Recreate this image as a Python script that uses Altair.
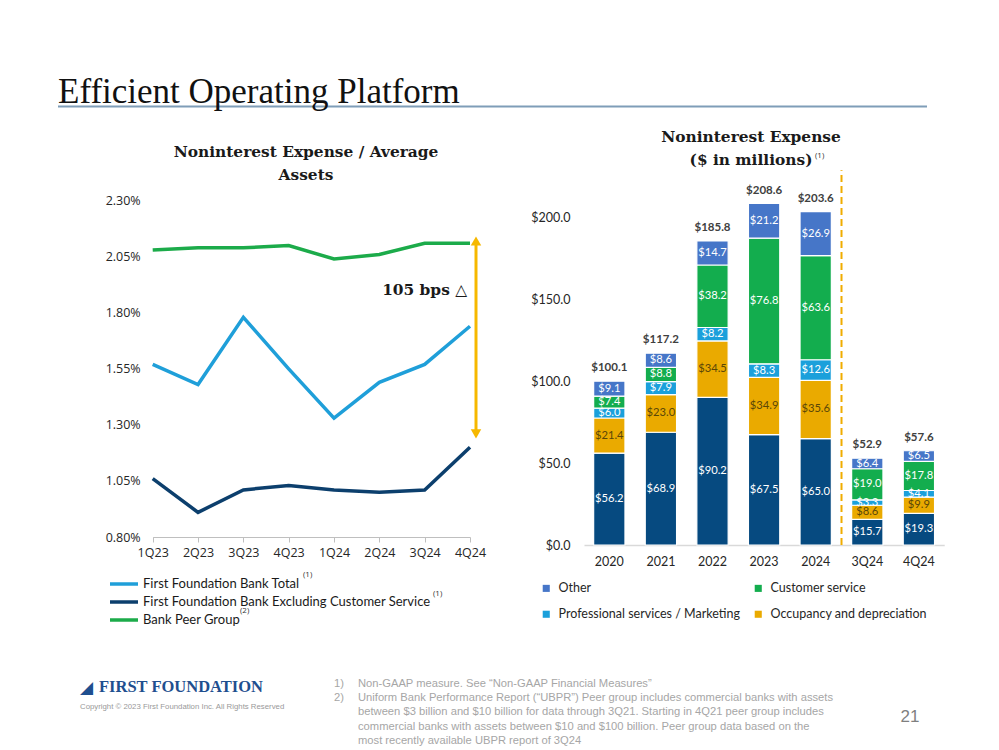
import altair as alt
import pandas as pd

# ---------------- data: left chart ----------------
quarters = ["1Q23", "2Q23", "3Q23", "4Q23", "1Q24", "2Q24", "3Q24", "4Q24"]
ff_total = [1.57, 1.48, 1.78, 1.55, 1.33, 1.49, 1.57, 1.74]
ff_excl_cs = [1.06, 0.91, 1.01, 1.03, 1.01, 1.00, 1.01, 1.20]
peer_group = [2.08, 2.09, 2.09, 2.10, 2.04, 2.06, 2.11, 2.11]
series_names = ["First Foundation Bank Total",
                "First Foundation Bank Excluding Customer Service",
                "Bank Peer Group"]
left_ticks = [0.80, 1.05, 1.30, 1.55, 1.80, 2.05, 2.30]
arrow_top = 2.12
arrow_bottom = 1.26
bps_label = "105 bps \u25b3"
bps_level = 1.90

# ---------------- data: right chart ----------------
periods = ["2020", "2021", "2022", "2023", "2024", "3Q24", "4Q24"]
salaries = [56.2, 68.9, 90.2, 67.5, 65.0, 15.7, 19.3]
occupancy = [21.4, 23.0, 34.5, 34.9, 35.6, 8.6, 9.9]
professional = [6.0, 7.9, 8.2, 8.3, 12.6, 3.3, 4.1]
customer = [7.4, 8.8, 38.2, 76.8, 63.6, 19.0, 17.8]
other = [9.1, 8.6, 14.7, 21.2, 26.9, 6.4, 6.5]
totals = [100.1, 117.2, 185.8, 208.6, 203.6, 52.9, 57.6]
categories = ["Salaries and benefits", "Occupancy and depreciation",
              "Professional services / Marketing", "Customer service", "Other"]
# legend fills column by column: (Other, Professional) | (Customer, Occupancy)
legend_order = ["Other", "Professional services / Marketing",
                "Customer service", "Occupancy and depreciation"]
right_ticks = [0, 50, 100, 150, 200]
divider_after = "2024"
divider_top = 229

# ---------------- styles ----------------
line_colors = ["#1f9fd9", "#0c3f6d", "#1cab4a"]
bar_colors = ["#064a80", "#eaaa00", "#1ba0db", "#13ad4e", "#4676c8"]
gold = "#f6b800"
W, H = 999, 750
title_font = "DejaVu Serif"

# ---------------- left chart ----------------
line_df = pd.DataFrame(
    [{"q": q, "v": v, "s": s}
     for s, vals in zip(series_names, [ff_total, ff_excl_cs, peer_group])
     for q, v in zip(quarters, vals)]
)

xl_scale = alt.Scale(type="point", domain=quarters, range=[152.7, 470], padding=0)
yl_scale = alt.Scale(domain=[0.8, 2.3], range=[537, 200.7], nice=False, zero=False)
xl_axis = alt.Axis(orient="bottom", offset=537 - H, title=None, labelAngle=0,
                   labelFont="Open Sans", labelFontSize=12.5, labelColor="#262626",
                   domainColor="#bfbfbf", tickColor="#bfbfbf", tickSize=5,
                   labelPadding=4, grid=False)
yl_axis = alt.Axis(orient="left", offset=-152.7, title=None, values=left_ticks,
                   labelExpr="format(datum.value, '.2f') + '%'",
                   labelFont="Open Sans", labelFontSize=12.5, labelColor="#262626",
                   domain=False, ticks=False, tickSize=0, labelPadding=12.5, grid=False)


def xl(field):
    return alt.X(field, type="nominal", scale=xl_scale, axis=xl_axis, sort=quarters)


def yl(field):
    return alt.Y(field, type="quantitative", scale=yl_scale, axis=yl_axis)


lines = alt.Chart(line_df).mark_line(strokeWidth=3.5).encode(
    x=xl("q"), y=yl("v"),
    color=alt.Color("s:N", scale=alt.Scale(domain=series_names, range=line_colors), legend=None),
)

arrow_df = pd.DataFrame({"q": [quarters[-1]], "top": [arrow_top], "bot": [arrow_bottom]})
arrow_rule = alt.Chart(arrow_df).mark_rule(color=gold, strokeWidth=3, xOffset=6).encode(
    x=xl("q"), y=yl("top"), y2="bot:Q")
head_up = alt.Chart(arrow_df).mark_point(shape="triangle-up", filled=True, size=110,
                                         color=gold, opacity=1, xOffset=6).encode(
    x=xl("q"), y=yl("top"))
head_down = alt.Chart(arrow_df).mark_point(shape="triangle-down", filled=True, size=110,
                                           color=gold, opacity=1, xOffset=6).encode(
    x=xl("q"), y=yl("bot"))
bps_df = pd.DataFrame({"q": [quarters[-1]], "v": [bps_level], "t": [bps_label]})
bps_text = alt.Chart(bps_df).mark_text(align="right", baseline="middle", dx=-3,
                                       font=title_font, fontWeight="bold",
                                       fontSize=15.4, color="#1a1a1a").encode(
    x=xl("q"), y=yl("v"), text="t:N")

left_chart = alt.layer(lines, arrow_rule, head_up, head_down, bps_text)

# ---------------- right chart ----------------
bar_rows = []
for i, p in enumerate(periods):
    for k, (c, vals) in enumerate(zip(categories, [salaries, occupancy, professional, customer, other])):
        bar_rows.append({"period": p, "cat": c, "value": vals[i], "ord": k})
bar_df = pd.DataFrame(bar_rows)
tot_df = pd.DataFrame({"period": periods, "total": totals})

xr_scale = alt.Scale(type="band", domain=periods, range=[584, 944.2],
                     paddingInner=0.393, paddingOuter=0.187)
yr_scale = alt.Scale(domain=[0, 230], range=[545, 545 - 230 * 1.6365], nice=False)
xr_axis = alt.Axis(orient="bottom", offset=545 - H, title=None, labelAngle=0,
                   labelFont="Lato", labelFontSize=12.5, labelColor="#262626",
                   domainColor="#d9d9d9", domainWidth=1.5, ticks=False, tickSize=0,
                   labelPadding=10, grid=False)
yr_axis = alt.Axis(orient="left", offset=-584, title=None, values=right_ticks,
                   format="$.1f", labelFont="Lato", labelFontSize=12.5, labelColor="#262626",
                   domain=False, ticks=False, tickSize=0, labelPadding=14, grid=False)


def xr(field, **kw):
    return alt.X(field, type="nominal", scale=xr_scale, axis=xr_axis, sort=periods, **kw)


def yr(field):
    return alt.Y(field, type="quantitative", scale=yr_scale, axis=yr_axis)


stacked = alt.Chart(bar_df).transform_stack(
    stack="value", groupby=["period"], as_=["v0", "v1"],
    sort=[alt.SortField("ord", order="ascending")]
).transform_calculate(
    mid="(datum.v0 + datum.v1) / 2",
    lbl="'$' + format(datum.value, '.1f')",
)

bars = stacked.mark_bar(stroke="white", strokeWidth=1.2).encode(
    x=xr("period"), y=yr("v0"), y2="v1:Q",
    color=alt.Color("cat:N", scale=alt.Scale(domain=categories, range=bar_colors),
                    legend=alt.Legend(orient="none", legendX=540, legendY=582, columns=2,
                                      values=legend_order, title=None, symbolType="square",
                                      symbolSize=50, symbolStrokeWidth=0, labelFont="Lato",
                                      labelFontSize=12.5, labelColor="#262626", labelLimit=400,
                                      labelOffset=6, rowPadding=13, columnPadding=12)),
)
seg_white = stacked.transform_filter(
    alt.FieldOneOfPredicate(field="cat", oneOf=[c for c in categories if c != categories[1]])
).mark_text(font="Lato", fontSize=11.2, color="white", baseline="middle").encode(
    x=xr("period"), y=yr("mid"), text="lbl:N")
seg_dark = stacked.transform_filter(
    alt.FieldEqualPredicate(field="cat", equal=categories[1])
).mark_text(font="Lato", fontSize=11.2, color="#5a4708", baseline="middle").encode(
    x=xr("period"), y=yr("mid"), text="lbl:N")
tot_text = alt.Chart(tot_df).transform_calculate(
    lbl="'$' + format(datum.total, '.1f')"
).mark_text(font="Lato", fontSize=11.5, fontWeight="bold", color="#404040",
            baseline="middle", dy=-13).encode(
    x=xr("period"), y=yr("total"), text="lbl:N")

div_df = pd.DataFrame({"period": [divider_after], "y0": [0], "y1": [divider_top]})
divider = alt.Chart(div_df).mark_rule(color="#f0ac00", strokeWidth=2, strokeDash=[7, 4],
                                      xOffset=10.15).encode(
    x=xr("period", bandPosition=1), y=yr("y0"), y2="y1:Q")

right_chart = alt.layer(bars, seg_white, seg_dark, tot_text, divider)

# ---------------- left legend ----------------
leg_df = pd.DataFrame({"s": series_names})
leg_y = alt.Y("s:N", scale=alt.Scale(type="point", domain=series_names, range=[584, 620], padding=0),
              axis=None)
leg_lines = alt.Chart(leg_df).mark_rule(strokeWidth=3.5).encode(
    x=alt.value(110), x2=alt.value(138), y=leg_y,
    color=alt.Color("s:N", scale=alt.Scale(domain=series_names, range=line_colors), legend=None))
leg_text = alt.Chart(leg_df).mark_text(align="left", baseline="middle", font="Lato",
                                       fontSize=13, color="#1a1a1a").encode(
    x=alt.value(143), y=leg_y, text="s:N")
left_legend = alt.layer(leg_lines, leg_text)


# ---------------- static texts ----------------
def label(text, x, y, size, font="Lato", color="#333333", weight="normal",
          align="left", baseline="alphabetic"):
    return alt.Chart(pd.DataFrame({"t": [text]})).mark_text(
        align=align, baseline=baseline, font=font, fontSize=size,
        fontWeight=weight, color=color
    ).encode(x=alt.value(x), y=alt.value(y), text="t:N")


title_rule = alt.Chart(pd.DataFrame({"a": [0]})).mark_rule(color="#7f9db8", strokeWidth=2).encode(
    x=alt.value(58), x2=alt.value(927), y=alt.value(106.5))

foot_color = "#a6a6a6"
foot_font = "Liberation Sans"
texts = [
    title_rule,
    label("Efficient Operating Platform", 58, 103, 35, font="Liberation Serif", color="#111111"),
    label("Noninterest Expense / Average", 306, 152, 15.4, font=title_font,
          weight="bold", color="#1a1a1a", align="center", baseline="middle"),
    label("Assets", 306, 175, 15.4, font=title_font, weight="bold",
          color="#1a1a1a", align="center", baseline="middle"),
    label("Noninterest Expense", 751, 137, 15.4, font=title_font, weight="bold",
          color="#1a1a1a", align="center", baseline="middle"),
    label("($ in millions)", 751, 160, 15.4, font=title_font, weight="bold",
          color="#1a1a1a", align="center", baseline="middle"),
    label("(1)", 815, 156, 8, font="Open Sans", color="#333333", baseline="middle"),
    label("(1)", 303, 575, 8, font="Open Sans", color="#333333", baseline="middle"),
    label("(1)", 433, 594, 8, font="Open Sans", color="#333333", baseline="middle"),
    label("(2)", 240, 611, 8, font="Open Sans", color="#333333", baseline="middle"),
    label("\u25e2", 80, 693, 17, font="DejaVu Sans", color="#1f4f8f"),
    label("FIRST FOUNDATION", 99, 692, 16.5, font="Liberation Serif", weight="bold",
          color="#1f4f8f"),
    label("Copyright \u00a9 2023 First Foundation Inc. All Rights Reserved", 80, 709, 7.8,
          font=foot_font, color="#999999"),
    label("1)", 334, 687, 11.2, font=foot_font, color=foot_color),
    label("Non-GAAP measure. See \u201cNon-GAAP Financial Measures\u201d", 358, 687, 11.2,
          font=foot_font, color=foot_color),
    label("2)", 334, 701, 11.2, font=foot_font, color=foot_color),
    label("Uniform Bank Performance Report (\u201cUBPR\u201d) Peer group includes commercial banks with assets",
          358, 701, 11.2, font=foot_font, color=foot_color),
    label("between $3 billion and $10 billion for data through 3Q21. Starting in 4Q21 peer group includes",
          358, 715, 11.2, font=foot_font, color=foot_color),
    label("commercial banks with assets between $10 and $100 billion. Peer group data based on the",
          358, 730, 11.2, font=foot_font, color=foot_color),
    label("most recently available UBPR report of 3Q24", 358, 744, 11.2,
          font=foot_font, color=foot_color),
    label("21", 910, 722, 17, font=foot_font, color="#7f7f7f", align="center"),
]

chart = alt.layer(left_chart, right_chart, left_legend, *texts).resolve_scale(
    x="independent", y="independent", color="independent"
).resolve_legend(color="independent").properties(
    width=W, height=H, autosize=alt.AutoSizeParams(type="none"), padding=0,
    background="white"
).configure_view(strokeWidth=0)

chart.save("out.html", embed_options={"renderer": "svg", "actions": False})
